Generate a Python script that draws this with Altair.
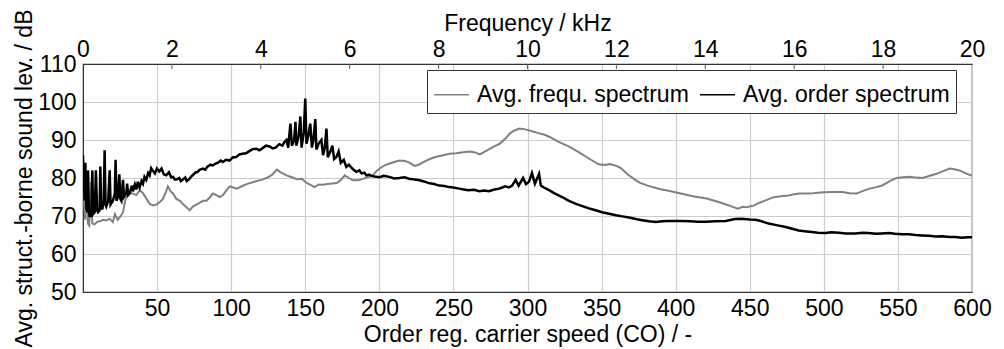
import altair as alt
import pandas as pd

# ---- data ----
black_order = [0.0, 0.5, 1.1, 1.6, 2.3, 3.0, 3.4, 4.0, 4.5, 5.6, 6.3, 6.8, 7.9, 8.7, 9.5, 10.1, 11.2, 11.7,
               12.3, 13.1, 14.0, 14.6, 15.2, 15.7, 17.0, 18.0, 18.6, 20.2, 21.5, 22.0, 22.6, 23.6, 24.5, 25.2,
               25.9, 27.0, 27.6, 29.2, 29.8, 30.5, 31.5, 33.0, 33.7, 35.0, 36.0, 37.0, 38.2, 39.5, 40.5, 41.5,
               42.7, 44.0, 45.0, 46.0, 47.0, 48.5, 49.9, 51.5, 53.0, 54.5, 56.2, 58.0, 59.5, 60.7, 62.0, 63.0,
               65.0, 66.0, 67.4, 69.0, 70.0, 72.0, 73.0, 74.2, 76.0, 77.0, 79.0, 80.9, 82.5, 84.0, 86.0, 87.6,
               89.5, 91.0, 93.0, 94.4, 96.5, 98.9, 101.0, 103.4, 105.5, 107.6, 110.0, 112.0, 114.5, 117.0, 119.0,
               121.0, 123.5, 125.9, 128.0, 130.0, 132.5, 134.6, 136.0, 137.3, 138.5, 140.0, 141.0, 142.5, 143.4,
               144.0, 145.5, 146.7, 147.5, 149.0, 150.0, 150.8, 152.0, 153.4, 154.5, 155.5, 156.8, 157.5, 159.0,
               160.9, 162.0, 163.2, 164.3, 165.2, 167.0, 168.3, 169.5, 171.0, 172.5, 174.0, 176.0, 177.7, 179.5,
               181.0, 183.0, 184.5, 186.5, 188.0, 190.0, 191.2, 193.0, 195.0, 198.0, 200.0, 203.0, 206.7, 210.0,
               213.5, 217.0, 220.0, 224.0, 227.0, 230.0, 234.0, 237.0, 240.4, 244.0, 247.0, 250.0, 254.0, 257.0,
               260.0, 264.0, 267.4, 271.0, 274.0, 277.0, 280.8, 283.0, 285.0, 287.5, 289.6, 292.0, 294.0, 297.0,
               299.0, 301.0, 303.0, 305.0, 307.8, 309.0, 311.0, 314.5, 318.0, 323.3, 328.0, 332.7, 337.0, 341.5,
               346.0, 350.3, 355.0, 359.7, 364.0, 368.5, 373.0, 377.3, 382.0, 386.7, 391.0, 395.5, 400.0, 404.2,
               410.0, 415.0, 420.5, 427.0, 433.8, 440.0, 444.6, 450.0, 454.0, 458.0, 462.8, 468.0, 474.3, 478.0,
               483.0, 487.0, 491.8, 496.0, 501.3, 505.0, 510.0, 515.0, 521.5, 526.0, 530.0, 535.0, 539.0, 544.0,
               548.0, 553.0, 557.3, 562.0, 566.0, 571.0, 575.5, 580.0, 585.0, 589.0, 593.0, 597.0, 600.0]
black_db = [86.0, 80.0, 74.0, 84.0, 72.0, 71.0, 82.0, 71.0, 70.0, 70.0, 82.0, 70.5, 71.0, 82.0, 71.5, 71.0, 71.5, 83.0,
            72.0, 72.0, 74.0, 87.3, 73.0, 72.5, 74.0, 82.0, 73.0, 74.0, 76.0, 84.8, 74.0, 75.0, 81.0, 74.5,
            74.0, 79.5, 75.0, 76.0, 78.5, 75.5, 76.0, 78.0, 76.5, 78.3, 77.0, 79.0, 77.5, 79.2, 78.5, 80.3,
            79.5, 81.3, 80.7, 82.6, 82.0, 81.2, 82.5, 81.7, 82.5, 81.0, 80.7, 81.5, 80.2, 80.3, 79.6, 79.6,
            80.0, 79.2, 79.6, 80.1, 79.2, 79.8, 80.4, 80.8, 81.5, 81.5, 82.2, 82.5, 82.2, 83.0, 83.5, 83.3,
            83.8, 84.0, 84.6, 84.2, 84.8, 84.6, 85.4, 85.5, 86.2, 86.4, 86.5, 87.0, 87.6, 87.7, 87.3,
            87.8, 88.5, 88.3, 87.8, 88.0, 88.9, 88.5, 89.5, 90.0, 88.0, 94.3, 88.5, 90.0, 94.8,
            88.5, 91.0, 96.2, 88.0, 92.0, 100.9, 89.0, 91.0, 94.3, 88.0, 90.0, 95.5, 87.5, 89.0,
            90.0, 86.0, 88.0, 93.0, 85.5, 87.0, 88.5, 85.0, 85.5, 87.0, 84.0, 84.8, 82.9, 83.5,
            82.8, 82.0, 81.6, 82.0, 81.2, 81.4, 80.7, 80.9, 80.5, 80.3, 80.2, 80.6, 80.3, 79.9,
            80.0, 80.2, 79.8, 79.6, 79.4, 79.1, 78.6, 78.4, 78.0, 77.9, 77.6, 77.5, 77.2, 77.0,
            76.8, 76.9, 76.5, 76.7, 76.5, 76.9, 77.2, 77.5, 77.8, 77.5, 78.0, 79.5, 78.0, 80.0,
            78.4, 79.0, 81.3, 78.5, 81.1, 78.0, 77.5, 76.8, 76.0, 75.0, 74.0, 73.2, 72.6, 72.0,
            71.5, 71.0, 70.6, 70.2, 69.9, 69.6, 69.2, 68.9, 68.6, 68.4, 68.6, 68.7, 68.7, 68.7,
            68.6, 68.5, 68.5, 68.6, 68.7, 69.2, 69.3, 69.1, 69.0, 68.6, 68.0, 67.6, 67.1, 66.7,
            66.2, 66.0, 65.8, 65.6, 65.5, 65.7, 65.6, 65.4, 65.4, 65.6, 65.5, 65.3, 65.4, 65.5,
            65.3, 65.2, 65.2, 65.0, 64.9, 64.8, 64.6, 64.7, 64.5, 64.5, 64.3, 64.4, 64.4]

gray_khz = [0.0, 0.03, 0.05, 0.08, 0.11, 0.14, 0.18, 0.21, 0.26, 0.32, 0.38, 0.45, 0.52, 0.6, 0.67, 0.72, 0.78,
            0.85, 0.9, 0.95, 1.0, 1.1, 1.2, 1.28, 1.35, 1.43, 1.5, 1.58, 1.65, 1.73, 1.8, 1.87, 1.91, 1.97,
            2.02, 2.1, 2.18, 2.26, 2.32, 2.4, 2.47, 2.55, 2.63, 2.7, 2.78, 2.86, 2.92, 3.0, 3.08, 3.15, 3.23,
            3.3, 3.38, 3.46, 3.55, 3.68, 3.8, 3.91, 4.02, 4.13, 4.25, 4.36, 4.45, 4.58, 4.7, 4.81, 4.92, 5.03,
            5.12, 5.21, 5.3, 5.39, 5.55, 5.71, 5.8, 5.89, 5.98, 6.07, 6.18, 6.29, 6.4, 6.52, 6.62, 6.72, 6.8,
            6.9, 7.0, 7.12, 7.25, 7.35, 7.46, 7.55, 7.68, 7.8, 7.95, 8.1, 8.25, 8.4, 8.55, 8.7, 8.8, 8.93,
            9.05, 9.2, 9.37, 9.5, 9.6, 9.71, 9.82, 9.95, 10.1, 10.25, 10.4, 10.5, 10.7, 10.95, 11.15, 11.4,
            11.6, 11.75, 11.85, 12.0, 12.1, 12.25, 12.4, 12.52, 12.7, 12.97, 13.2, 13.42, 13.72, 14.03, 14.32,
            14.5, 14.62, 14.73, 14.85, 14.93, 15.1, 15.22, 15.4, 15.52, 15.7, 15.83, 16.0, 16.12, 16.3, 16.42,
            16.6, 16.8, 17.09, 17.25, 17.4, 17.55, 17.7, 17.85, 17.99, 18.15, 18.3, 18.45, 18.6, 18.75, 18.89,
            19.05, 19.2, 19.35, 19.5, 19.6, 19.72, 19.85, 20.0]
gray_db = [80.0, 73.0, 69.0, 81.0, 68.0, 67.5, 79.0, 68.0, 67.8, 68.5, 68.6, 69.0, 68.8, 69.3, 68.4, 70.5, 69.0,
           70.0, 71.0, 74.0, 75.8, 76.0, 75.5, 76.8, 76.0, 74.5, 73.2, 72.8, 73.0, 73.7, 74.5, 76.5, 77.8, 76.5,
           76.0, 74.5, 74.0, 73.0, 72.4, 71.5, 72.5, 73.0, 73.5, 74.0, 74.0, 75.0, 75.9, 75.5, 75.0, 75.5, 76.8,
           77.8, 77.5, 77.2, 77.7, 78.4, 78.8, 79.2, 79.5, 80.0, 80.8, 82.2, 81.5, 80.7, 80.2, 79.7, 79.8, 78.7,
           78.2, 77.6, 78.3, 78.2, 78.5, 78.7, 79.5, 80.7, 80.0, 79.4, 79.4, 79.7, 80.2, 80.7, 82.0, 82.9, 83.4,
           83.8, 84.2, 84.6, 84.5, 84.0, 83.2, 83.5, 84.3, 85.0, 85.6, 86.0, 86.4, 86.5, 86.8, 87.0, 86.8, 86.2,
           87.0, 88.0, 89.0, 90.3, 91.7, 92.5, 93.0, 92.8, 92.3, 91.8, 91.3, 90.8, 89.5, 88.2, 86.8, 85.0,
           83.6, 83.4, 83.7, 83.2, 82.6, 81.0, 79.7, 78.8, 78.0, 77.1, 76.6, 76.0, 75.2, 74.6, 73.6,
           72.9, 72.4, 71.9, 72.4, 72.3, 72.8, 73.5, 74.3, 74.9, 75.2, 75.3, 75.7, 75.9, 75.9, 76.0,
           76.2, 76.3, 76.3, 76.0, 75.9, 76.6, 77.2, 77.6, 78.1, 79.2, 80.0, 80.2, 80.3, 80.1, 80.0,
           80.6, 81.1, 81.8, 82.5, 82.3, 82.0, 81.3, 80.6]

series_names = ["Avg. frequ. spectrum", "Avg. order spectrum"]
series_colors = ["#808080", "#000000"]
order_ticks = [50, 100, 150, 200, 250, 300, 350, 400, 450, 500, 550, 600]
freq_ticks = [0, 2, 4, 6, 8, 10, 12, 14, 16, 18, 20]
db_ticks = [50, 60, 70, 80, 90, 100, 110]

FONT = "Liberation Sans"
FS = 23

gray_df = pd.DataFrame({"khz": gray_khz, "db": gray_db, "series": series_names[0]})
black_df = pd.DataFrame({"order": black_order, "db": black_db, "series": series_names[1]})
fticks_df = pd.DataFrame({"tk": freq_ticks[1:-1]})

yscale = alt.Scale(domain=[50, 110], nice=False, zero=False)
yaxis = alt.Axis(title="Avg. struct.-borne sound lev. / dB", values=db_ticks, grid=True,
                 ticks=False, tickSize=0, labelPadding=7, titlePadding=1, domainColor="#333333",
                 labelFlush=False, labelOverlap=False)
color = alt.Color("series:N",
                  scale=alt.Scale(domain=series_names, range=series_colors),
                  legend=alt.Legend(orient="none", legendX=344, legendY=6, direction="horizontal",
                                    title=None, symbolType="stroke", symbolSize=1225,
                                    symbolStrokeWidth=1.5, labelFont=FONT, labelFontSize=FS,
                                    labelColor="black", fillColor="white", strokeColor="#333333",
                                    padding=6, columnPadding=8, labelOffset=7, labelLimit=400))

fticks = alt.Chart(fticks_df).mark_rule(color="#555555", strokeWidth=1).encode(
    x=alt.X("tk:Q", scale=alt.Scale(domain=[0, 20], nice=False, zero=False), axis=None),
    y=alt.value(0), y2=alt.value(5),
)

gray = alt.Chart(gray_df).mark_line(strokeWidth=2, clip=True).encode(
    x=alt.X("khz:Q", scale=alt.Scale(domain=[0, 20], nice=False, zero=False),
            axis=alt.Axis(orient="top", title="Frequency / kHz", values=freq_ticks, grid=False,
                          ticks=False, tickSize=0, labelPadding=3, titlePadding=3, domainColor="#333333",
                          labelFlush=False, labelOverlap=False)),
    y=alt.Y("db:Q", scale=yscale, axis=yaxis),
    color=color,
)

black = alt.Chart(black_df).mark_line(strokeWidth=2.5, clip=True).encode(
    x=alt.X("order:Q", scale=alt.Scale(domain=[0, 600], nice=False, zero=False),
            axis=alt.Axis(orient="bottom", title="Order reg. carrier speed (CO) / -", values=order_ticks,
                          grid=True, ticks=False, tickSize=0, labelPadding=5, titlePadding=3,
                          domainColor="#333333", labelFlush=False, labelOverlap=False)),
    y=alt.Y("db:Q", scale=yscale, axis=yaxis),
    color=color,
)

chart = alt.layer(fticks, gray, black).resolve_scale(x="independent").properties(
    width=889, height=228,
    autosize=alt.AutoSizeParams(type="none"),
    padding={"left": 83, "top": 64, "right": 32, "bottom": 57},
    background="white",
).configure_axis(
    labelFont=FONT, labelFontSize=FS, labelColor="black",
    titleFont=FONT, titleFontSize=FS, titleFontWeight="normal", titleColor="black",
    gridColor="#cccccc", gridWidth=1.2,
).configure_view(stroke="#333333", strokeWidth=1.2)

chart.save("out.html", embed_options={"renderer": "svg", "actions": False})
